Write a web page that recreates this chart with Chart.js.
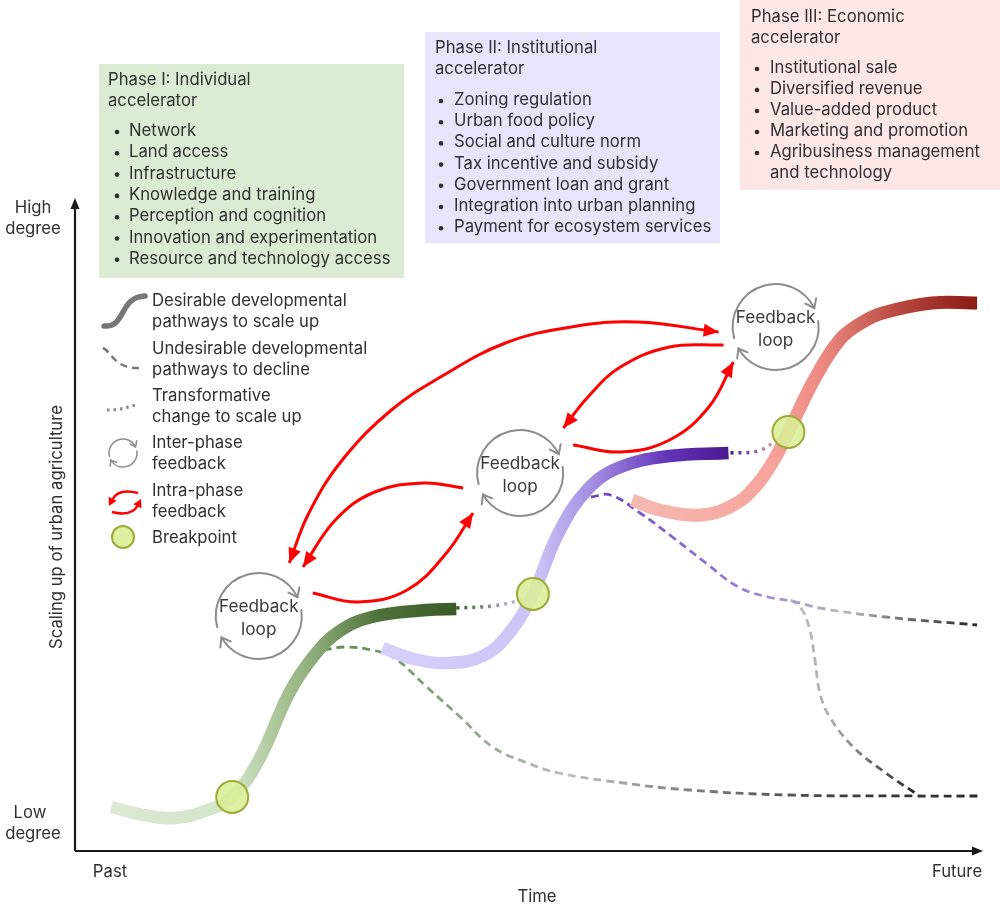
<!DOCTYPE html>
<html>
<head>
<meta charset="utf-8">
<script src="https://cdn.jsdelivr.net/npm/chart.js@4"></script>
<style>
  html, body { margin: 0; padding: 0; background: #fff; }
  canvas { display: block; }
</style>
</head>
<body>
<canvas id="chart" width="1000" height="907"></canvas>
<script>
/* ============================================================
   Scaling up of urban agriculture – conceptual pathway chart
   x = time (past -> future), y = degree of scaling up
============================================================ */

/* ---------- axis ranges ---------- */
const timeMax = 923;
const degreeMax = 651;

/* ---------- desirable pathways (S-curves) ---------- */
const phase1X = [37, 70, 102, 135, 160, 187, 218, 243, 268, 302, 358, 388];
const phase1Y = [44, 36, 33, 41, 54, 91, 158, 195, 219, 234, 241, 242];

const phase2X = [313, 345, 380, 415, 442, 466, 492, 522, 555, 605, 665];
const phase2Y = [203, 192, 188, 195, 218, 257, 318, 362, 384, 395, 398];

const phase3X = [567, 595, 638, 670, 692, 710, 726, 752, 778, 800, 822, 872, 918];
const phase3Y = [351, 341, 336, 346, 364, 389, 419, 471, 511, 528, 538, 548, 548];

/* ---------- undesirable pathways (decline) ---------- */
const decline1X = [253, 275, 302, 325, 358, 392, 425, 458, 492, 558, 625, 725, 858, 923];
const decline1Y = [201, 204, 201, 193, 164, 134, 104, 89, 78, 68, 61, 56, 55, 55];

const decline2X = [525, 545, 575, 608, 642, 675, 705, 730, 758, 825, 918];
const decline2Y = [354, 356, 338, 314, 288, 264, 254, 250, 243, 234, 226];

const decline3X = [728, 738, 747, 753, 758, 768, 792, 825, 858];
const decline3Y = [251, 244, 224, 191, 158, 134, 104, 78, 56];

/* ---------- transformative change (dotted) ---------- */
const transform1X = [388, 425, 455];
const transform1Y = [243, 245, 251];
const transform2X = [667, 695, 715];
const transform2Y = [398, 400, 411];

/* ---------- breakpoints ---------- */
const breakX = [160, 466, 726];
const breakY = [54, 257, 419];

/* ---------- feedback loops ---------- */
const loopX = [187, 453, 713];
const loopY = [235, 378, 524];
const loopLabel = ["Feedback", "loop"];

/* ---------- intra-phase feedback arrows ---------- */
const arrowAX = [218, 238, 272, 322, 372, 438, 505, 572, 655];
const arrowAY = [288, 338, 391, 441, 474, 508, 524, 529, 519];
const arrowBX = [395, 355, 305, 265, 232];
const arrowBY = [363, 368, 359, 331, 284];
const arrowCX = [242, 288, 338, 378, 405];
const arrowCY = [258, 249, 261, 298, 338];
const arrowDX = [660, 605, 555, 522, 497];
const arrowDY = [506, 504, 484, 454, 423];
const arrowEX = [507, 555, 605, 645, 670];
const arrowEY = [406, 399, 411, 444, 489];
// which ends carry an arrowhead: [start, end]
const arrowHeads = [[true, true], [false, true], [false, true], [false, true], [false, true]];

/* ---------- texts ---------- */
const phase1Title = ["Phase I: Individual", "accelerator"];
const phase1Items = ["Network", "Land access", "Infrastructure", "Knowledge and training",
    "Perception and cognition", "Innovation and experimentation", "Resource and technology access"];
const phase2Title = ["Phase II: Institutional", "accelerator"];
const phase2Items = ["Zoning regulation", "Urban food policy", "Social and culture norm",
    "Tax incentive and subsidy", "Government loan and grant", "Integration into urban planning",
    "Payment for ecosystem services"];
const phase3Title = ["Phase III: Economic", "accelerator"];
const phase3Items = ["Institutional sale", "Diversified revenue", "Value-added product",
    "Marketing and promotion", "Agribusiness management", "and technology"];

const legendTexts = [
    ["Desirable developmental", "pathways to scale up"],
    ["Undesirable developmental", "pathways to decline"],
    ["Transformative", "change to scale up"],
    ["Inter-phase", "feedback"],
    ["Intra-phase", "feedback"],
    ["Breakpoint"]
];
const yTitle = "Scaling up of urban agriculture";
const xTitle = "Time";

/* ------------------------------------------------------------
   helpers
------------------------------------------------------------ */
const FONT = '"Inter", "Noto Sans", sans-serif';
const TEXT = "#303030";
const SIZE = 16.7;

function zip(xs, ys) {
    return xs.map((x, i) => ({ x: x, y: ys[i] }));
}

// horizontal gradient between two x data values
function gradientX(x0, x1, stops) {
    return function (context) {
        const chart = context.chart;
        if (!chart.chartArea) return stops[0][1];
        const p0 = chart.scales.x.getPixelForValue(x0);
        const p1 = chart.scales.x.getPixelForValue(x1);
        const g = chart.ctx.createLinearGradient(p0, 0, p1, 0);
        stops.forEach(s => g.addColorStop(s[0], s[1]));
        return g;
    };
}

function text(ctx, s, x, y, align, size, color) {
    ctx.font = (size || SIZE) + "px " + FONT;
    ctx.textAlign = align || "left";
    ctx.textBaseline = "middle";
    ctx.fillStyle = color || TEXT;
    ctx.fillText(s, x, y);
}

function drawBox(ctx, box, title, items) {
    ctx.fillStyle = box.bg;
    ctx.fillRect(box.x, box.y, box.w, box.h);
    title.forEach((t, i) => text(ctx, t, box.tx, box.ty + i * 21));
    items.forEach((t, i) => {
        const y = box.by + i * box.step;
        const cont = t.startsWith("and ") && i > 0 && items[i - 1].startsWith("Agribusiness");
        if (!cont) {
            ctx.beginPath();
            ctx.arc(box.dx, y + 1, 2.3, 0, Math.PI * 2);
            ctx.fillStyle = TEXT;
            ctx.fill();
        }
        text(ctx, t, box.ix, y);
    });
}

function chevron(ctx, x, y, dx, dy, len, half) {
    const n = Math.hypot(dx, dy) || 1;
    const ux = dx / n, uy = dy / n;
    ctx.beginPath();
    ctx.moveTo(x - ux * len - uy * half, y - uy * len + ux * half);
    ctx.lineTo(x, y);
    ctx.lineTo(x - ux * len + uy * half, y - uy * len - ux * half);
    ctx.stroke();
}

function triangle(ctx, x, y, dx, dy, len, half) {
    const n = Math.hypot(dx, dy) || 1;
    const ux = dx / n, uy = dy / n;
    ctx.beginPath();
    ctx.moveTo(x, y);
    ctx.lineTo(x - ux * len - uy * half, y - uy * len + ux * half);
    ctx.lineTo(x - ux * len + uy * half, y - uy * len - ux * half);
    ctx.closePath();
    ctx.fill();
}

// circular inter-phase feedback symbol
function drawLoop(ctx, cx, cy, r, lw, head) {
    ctx.save();
    ctx.strokeStyle = "#8c8c8c";
    ctx.lineWidth = lw;
    ctx.lineCap = "round";
    const arcs = [[165, 334], [352, 510]];
    arcs.forEach(a => {
        const s = a[0] * Math.PI / 180, e = a[1] * Math.PI / 180;
        ctx.beginPath();
        ctx.arc(cx, cy, r, s, e, false);
        ctx.stroke();
        const px = cx + r * Math.cos(e), py = cy + r * Math.sin(e);
        chevron(ctx, px, py, -Math.sin(e), Math.cos(e), head, head * 0.75);
    });
    ctx.restore();
}

/* ------------------------------------------------------------
   plugin : boxes, axes, legend, loops, arrowheads
------------------------------------------------------------ */
const decorPlugin = {
    id: "decor",
    afterDatasetsDraw(chart) {
        const ctx = chart.ctx;
        const sx = chart.scales.x, sy = chart.scales.y;

        // feedback loops
        loopX.forEach((lx, i) => {
            const cx = sx.getPixelForValue(lx), cy = sy.getPixelForValue(loopY[i]);
            drawLoop(ctx, cx, cy, 43, 2, 8);
            text(ctx, loopLabel[0], cx, cy - 9, "center", 17.2, "#3a3a3a");
            text(ctx, loopLabel[1], cx, cy + 14, "center", 17.2, "#3a3a3a");
        });

        // red arrowheads
        ctx.save();
        ctx.fillStyle = "#ff0000";
        arrowHeads.forEach((h, k) => {
            const meta = chart.getDatasetMeta(1 + k);
            const pts = meta.data;
            const n = pts.length;
            if (h[1]) {
                const p = pts[n - 1];
                let dx = p.x - p.cp1x, dy = p.y - p.cp1y;
                if (!isFinite(dx) || Math.hypot(dx, dy) < 0.5) { dx = p.x - pts[n - 2].x; dy = p.y - pts[n - 2].y; }
                triangle(ctx, p.x, p.y, dx, dy, 15, 6.5);
            }
            if (h[0]) {
                const p = pts[0];
                let dx = p.x - p.cp2x, dy = p.y - p.cp2y;
                if (!isFinite(dx) || Math.hypot(dx, dy) < 0.5) { dx = p.x - pts[1].x; dy = p.y - pts[1].y; }
                triangle(ctx, p.x, p.y, dx, dy, 15, 6.5);
            }
        });
        ctx.restore();
    },
    afterDraw(chart) {
        const ctx = chart.ctx;
        const area = chart.chartArea;
        ctx.save();

        // phase boxes
        drawBox(ctx, { x: 99, y: 64, w: 305, h: 214, bg: "#dcebd3", tx: 108, ty: 80, by: 131, step: 21.3, dx: 117, ix: 129 },
            phase1Title, phase1Items);
        drawBox(ctx, { x: 425, y: 32, w: 295, h: 211, bg: "#e7e4fb", tx: 435, ty: 48, by: 100, step: 21.2, dx: 441, ix: 454 },
            phase2Title, phase2Items);
        drawBox(ctx, { x: 740, y: 0, w: 260, h: 190, bg: "#fde6e6", tx: 751, ty: 17, by: 68, step: 21, dx: 757, ix: 770 },
            phase3Title, phase3Items);

        // axes with arrows
        ctx.strokeStyle = "#1a1a1a";
        ctx.fillStyle = "#1a1a1a";
        ctx.lineWidth = 2.2;
        ctx.beginPath();
        ctx.moveTo(area.left, area.bottom);
        ctx.lineTo(area.left, area.top + 8);
        ctx.moveTo(area.left, area.bottom);
        ctx.lineTo(area.right - 8, area.bottom);
        ctx.stroke();
        triangle(ctx, area.left, area.top - 2, 0, -1, 11, 4.5);
        triangle(ctx, area.right + 1, area.bottom, 1, 0, 11, 4.5);

        // axis labels
        text(ctx, "High", 33, 208, "center");
        text(ctx, "degree", 33, 229, "center");
        text(ctx, "Low", 30, 813, "center");
        text(ctx, "degree", 33, 834, "center");
        text(ctx, "Past", 110, 872, "center");
        text(ctx, "Future", 957, 872, "center");
        text(ctx, xTitle, 537, 897, "center");
        ctx.save();
        ctx.translate(57, 527);
        ctx.rotate(-Math.PI / 2);
        text(ctx, yTitle, 0, 0, "center");
        ctx.restore();

        // legend texts
        const legendY = [301, 349, 396, 443, 491, 538];
        legendTexts.forEach((lines, i) => {
            lines.forEach((t, j) => text(ctx, t, 152, legendY[i] + j * 21));
        });

        // legend icons
        ctx.lineCap = "round";
        ctx.strokeStyle = "#777";
        ctx.lineWidth = 5.5;
        ctx.beginPath();
        ctx.moveTo(104, 326);
        ctx.bezierCurveTo(126, 328, 119, 297, 145, 296);
        ctx.stroke();

        ctx.lineCap = "butt";
        ctx.lineWidth = 2.5;
        ctx.setLineDash([7, 5]);
        ctx.beginPath();
        ctx.moveTo(103, 348);
        ctx.bezierCurveTo(112, 352, 114, 369, 140, 368);
        ctx.stroke();

        ctx.setLineDash([2.5, 4]);
        ctx.lineWidth = 3;
        ctx.strokeStyle = "#888";
        ctx.beginPath();
        ctx.moveTo(107, 410);
        ctx.quadraticCurveTo(122, 410, 138, 404);
        ctx.stroke();
        ctx.setLineDash([]);

        drawLoop(ctx, 123, 453, 14, 1.5, 5);

        ctx.strokeStyle = "#ff0000";
        ctx.fillStyle = "#ff0000";
        ctx.lineWidth = 2.5;
        ctx.beginPath();
        ctx.moveTo(138, 493);
        ctx.quadraticCurveTo(118, 488, 112, 500);
        ctx.stroke();
        triangle(ctx, 109, 506, -0.5, 1, 8, 4.5);
        ctx.beginPath();
        ctx.moveTo(112, 512);
        ctx.quadraticCurveTo(132, 517, 138, 505);
        ctx.stroke();
        triangle(ctx, 141, 499, 0.5, -1, 8, 4.5);

        ctx.beginPath();
        ctx.arc(123, 537, 11, 0, Math.PI * 2);
        ctx.fillStyle = "rgba(216,238,150,0.9)";
        ctx.fill();
        ctx.strokeStyle = "#9fa935";
        ctx.lineWidth = 2;
        ctx.stroke();

        ctx.restore();
    }
};

/* ------------------------------------------------------------
   datasets
------------------------------------------------------------ */
function arrowSet(xs, ys) {
    return {
        data: zip(xs, ys),
        borderColor: "#ff0000",
        borderWidth: 3,
        tension: 0.4,
        pointRadius: 0,
        fill: false,
        clip: false
    };
}

function pathSet(xs, ys, color, width, dash) {
    return {
        data: zip(xs, ys),
        borderColor: color,
        borderWidth: width,
        borderDash: dash || [],
        borderCapStyle: "butt",
        tension: 0.4,
        pointRadius: 0,
        fill: false,
        clip: false
    };
}

const datasets = [
    {
        data: zip(breakX, breakY),
        showLine: false,
        pointRadius: 16,
        pointBorderWidth: 2,
        pointBackgroundColor: "rgba(216,238,150,0.88)",
        pointBorderColor: "#9fa935",
        clip: false
    },
    arrowSet(arrowAX, arrowAY),
    arrowSet(arrowBX, arrowBY),
    arrowSet(arrowCX, arrowCY),
    arrowSet(arrowDX, arrowDY),
    arrowSet(arrowEX, arrowEY),
    pathSet(phase1X, phase1Y, gradientX(37, 388, [[0, "#dde9d3"], [0.35, "#d2e4c6"], [0.55, "#97b684"], [0.78, "#4d7038"], [1, "#3a5a28"]]), 12.5),
    pathSet(phase2X, phase2Y, gradientX(313, 665, [[0, "#d6d2fb"], [0.45, "#cbc3f6"], [0.62, "#9f88df"], [0.82, "#6234b8"], [1, "#4a1890"]]), 12.5),
    pathSet(phase3X, phase3Y, gradientX(567, 918, [[0, "#f5bab2"], [0.4, "#f6a49c"], [0.55, "#ec8a82"], [0.78, "#b6463c"], [1, "#8a1a12"]]), 13),
    pathSet(transform1X, transform1Y, gradientX(388, 455, [[0, "#3a5a28"], [1, "#c8c0f0"]]), 3.5, [3, 5]),
    pathSet(transform2X, transform2Y, gradientX(667, 715, [[0, "#4a1890"], [1, "#e2a6b6"]]), 3.5, [3, 5]),
    pathSet(decline1X, decline1Y, gradientX(253, 923, [[0, "#5f8a4d"], [0.2, "#8aa682"], [0.38, "#bcc0ba"], [0.58, "#777"], [0.8, "#3c3c3c"], [1, "#2a2a2a"]]), 2.8, [8, 5]),
    pathSet(decline2X, decline2Y, gradientX(525, 918, [[0, "#6a44c0"], [0.42, "#9a84d8"], [0.66, "#b8b8b8"], [0.82, "#6a6a6a"], [1, "#2a2a2a"]]), 2.8, [8, 5]),
    pathSet(decline3X, decline3Y, gradientX(728, 858, [[0, "#c4c4c4"], [0.35, "#a8a8a8"], [1, "#1f1f1f"]]), 2.8, [8, 5])
];

/* ------------------------------------------------------------
   chart
------------------------------------------------------------ */
Chart.defaults.font.family = FONT;

new Chart(document.getElementById("chart"), {
    type: "line",
    data: { datasets: datasets },
    options: {
        responsive: false,
        animation: false,
        layout: { padding: { left: 75, right: 2, top: 200, bottom: 56 } },
        scales: {
            x: { type: "linear", min: 0, max: timeMax, display: false },
            y: { type: "linear", min: 0, max: degreeMax, display: false }
        },
        plugins: {
            legend: { display: false },
            tooltip: { enabled: false }
        }
    },
    plugins: [decorPlugin]
});
</script>
</body>
</html>
